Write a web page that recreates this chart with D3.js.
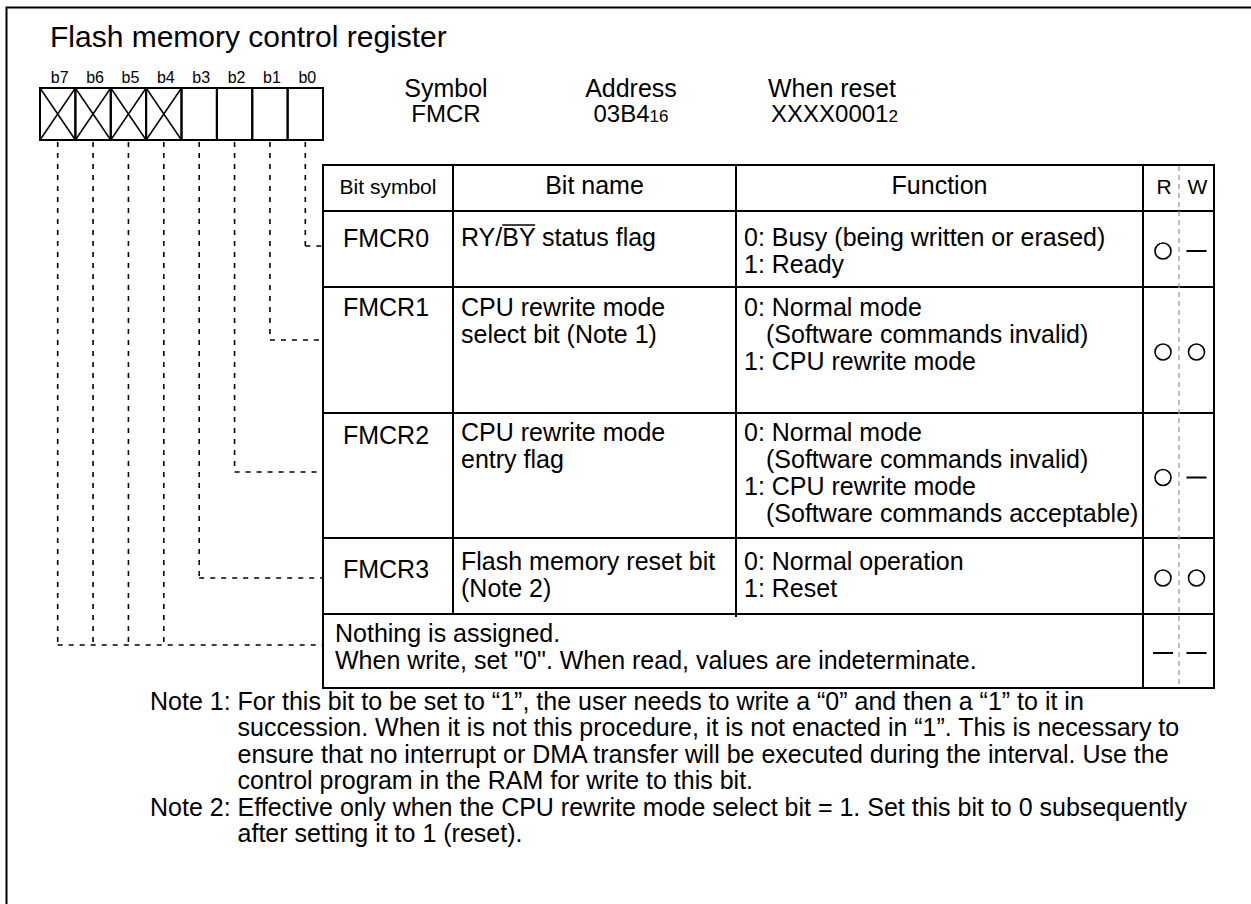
<!DOCTYPE html>
<html>
<head>
<meta charset="utf-8">
<script src="https://cdn.jsdelivr.net/npm/d3@7"></script>
<style>
  html, body { margin: 0; padding: 0; background: #fff; }
  svg { display: block; }
  text { font-family: "Liberation Sans", Arial, Helvetica, sans-serif; fill: #000; }
</style>
</head>
<body>
<svg id="chart" width="1251" height="904"></svg>
<script>
// ---------------- data ----------------
const title = "Flash memory control register";
const bitLabels = ["b7", "b6", "b5", "b4", "b3", "b2", "b1", "b0"];
const reservedBits = ["b7", "b6", "b5", "b4"];
const infoLabels = ["Symbol", "Address", "When reset"];
const infoValues = [["FMCR", ""], ["03B4", "16"], ["XXXX0001", "2"]];
const headers = ["Bit symbol", "Bit name", "Function", "R", "W"];
const bitSymbols = ["FMCR0", "FMCR1", "FMCR2", "FMCR3", ""];
const bitNames = [
  ["RY/BY status flag"],
  ["CPU rewrite mode", "select bit (Note 1)"],
  ["CPU rewrite mode", "entry flag"],
  ["Flash memory reset bit", "(Note 2)"],
  []
];
const functions = [
  ["0: Busy (being written or erased)", "1: Ready"],
  ["0: Normal mode", "(Software commands invalid)", "1: CPU rewrite mode"],
  ["0: Normal mode", "(Software commands invalid)", "1: CPU rewrite mode", "(Software commands acceptable)"],
  ["0: Normal operation", "1: Reset"],
  ["Nothing is assigned.", "When write, set \"0\". When read, values are indeterminate."]
];
const readAccess = ["O", "O", "O", "O", "-"];
const writeAccess = ["-", "O", "-", "O", "-"];
const rowBits = [["b0"], ["b1"], ["b2"], ["b3"], ["b4", "b5", "b6", "b7"]];
const noteLabels = ["Note 1:", "Note 2:"];
const noteLines = [
  ["For this bit to be set to \u201C1\u201D, the user needs to write a \u201C0\u201D and then a \u201C1\u201D to it in",
   "succession. When it is not this procedure, it is not enacted in \u201C1\u201D. This is necessary to",
   "ensure that no interrupt or DMA transfer will be executed during the interval. Use the",
   "control program in the RAM for write to this bit."],
  ["Effective only when the CPU rewrite mode select bit = 1. Set this bit to 0 subsequently",
   "after setting it to 1 (reset)."]
];

// ---------------- layout ----------------
const W = 1251, H = 904;
const svg = d3.select("#chart");
const colEdges = [323, 453, 736, 1143, 1179, 1214];
const rowEdges = [165, 211, 287, 413, 538, 614, 688];
const lineH = 27;
const firstLine = [35, 29, 28, 32, 28];
const symbolDy = [1, 0, 3, 8, 0];
const connectorY = [246, 340, 472, 578, 645];
const tableFont = 25;

// outer frame (top and left visible)
svg.append("rect").attr("x", 6.5).attr("y", 7.5).attr("width", W + 20).attr("height", H + 20)
  .attr("fill", "none").attr("stroke", "#000").attr("stroke-width", 2);

// title
svg.append("text").attr("x", 50).attr("y", 47).attr("font-size", 30).text(title);

// register bit boxes
const xBit = d3.scaleBand().domain(bitLabels).range([40, 323]);
const boxTop = 88, boxBottom = 140;
const gBits = svg.append("g");
gBits.selectAll("text.bl").data(bitLabels).join("text")
  .attr("class", "bl")
  .attr("x", d => xBit(d) + xBit.bandwidth() / 2 + 2)
  .attr("y", 83).attr("text-anchor", "middle").attr("font-size", 16)
  .text(d => d);
gBits.selectAll("rect").data(bitLabels).join("rect")
  .attr("x", d => xBit(d)).attr("y", boxTop)
  .attr("width", xBit.bandwidth()).attr("height", boxBottom - boxTop)
  .attr("fill", "none").attr("stroke", "#000").attr("stroke-width", 2);
reservedBits.forEach(b => {
  const x0 = xBit(b), x1 = x0 + xBit.bandwidth();
  gBits.append("line").attr("x1", x0).attr("y1", boxTop).attr("x2", x1).attr("y2", boxBottom)
    .attr("stroke", "#000").attr("stroke-width", 1.5);
  gBits.append("line").attr("x1", x1).attr("y1", boxTop).attr("x2", x0).attr("y2", boxBottom)
    .attr("stroke", "#000").attr("stroke-width", 1.5);
});

// register info
const infoX = [446, 631, 768];
const infoAnchor = ["middle", "middle", "start"];
infoLabels.forEach((lab, i) => {
  svg.append("text").attr("x", infoX[i]).attr("y", 97).attr("font-size", 25)
    .attr("text-anchor", infoAnchor[i]).text(lab);
  const t = svg.append("text").attr("x", infoX[i] + (i === 2 ? 3 : 0)).attr("y", 122).attr("font-size", 24)
    .attr("text-anchor", infoAnchor[i]);
  t.append("tspan").text(infoValues[i][0]);
  if (infoValues[i][1]) t.append("tspan").attr("font-size", 17).text(infoValues[i][1]);
});

// dashed connectors
const gConn = svg.append("g").attr("fill", "none").attr("stroke", "#000")
  .attr("stroke-width", 1.6).attr("stroke-dasharray", "5,6");
rowBits.forEach((bits, r) => {
  const y = connectorY[r];
  bits.forEach(b => {
    const x = xBit(b) + xBit.bandwidth() / 2;
    gConn.append("path").attr("d", `M${x},${boxBottom + 2}V${y}`);
  });
  const xs = bits.map(b => xBit(b) + xBit.bandwidth() / 2);
  gConn.append("path").attr("d", `M${d3.min(xs)},${y}H${colEdges[0]}`);
});

// table grid
const gT = svg.append("g").attr("stroke", "#000").attr("stroke-width", 2).attr("fill", "none");
gT.append("rect").attr("x", colEdges[0]).attr("y", rowEdges[0])
  .attr("width", colEdges[5] - colEdges[0]).attr("height", rowEdges[6] - rowEdges[0]);
rowEdges.slice(1, 6).forEach(y => {
  gT.append("line").attr("x1", colEdges[0]).attr("x2", colEdges[5]).attr("y1", y).attr("y2", y);
});
[1, 2].forEach(c => {
  gT.append("line").attr("x1", colEdges[c]).attr("x2", colEdges[c])
    .attr("y1", rowEdges[0]).attr("y2", rowEdges[5] + (c === 2 ? 3 : 0));
});
gT.append("line").attr("x1", colEdges[3]).attr("x2", colEdges[3])
  .attr("y1", rowEdges[0]).attr("y2", rowEdges[6]);
svg.append("line").attr("x1", colEdges[4]).attr("x2", colEdges[4])
  .attr("y1", rowEdges[0] + 1).attr("y2", rowEdges[6] - 1)
  .attr("stroke", "#999").attr("stroke-width", 1.3).attr("stroke-dasharray", "5,4");

// headers
const headerY = 194;
const headerX = [
  (colEdges[0] + colEdges[1]) / 2, (colEdges[1] + colEdges[2]) / 2, (colEdges[2] + colEdges[3]) / 2,
  (colEdges[3] + colEdges[4]) / 2 + 3, (colEdges[4] + colEdges[5]) / 2 + 1
];
headers.forEach((h, i) => {
  svg.append("text").attr("x", headerX[i]).attr("y", headerY).attr("text-anchor", "middle")
    .attr("font-size", i === 0 ? 21 : (i > 2 ? 21 : 25)).text(h);
});

// rows
bitSymbols.forEach((sym, r) => {
  const top = rowEdges[r + 1];
  const bottom = rowEdges[r + 2];
  const base = top + firstLine[r];
  if (sym) {
    svg.append("text").attr("x", (colEdges[0] + colEdges[1]) / 2 - 2).attr("y", base + symbolDy[r])
      .attr("text-anchor", "middle").attr("font-size", tableFont).text(sym);
  }
  bitNames[r].forEach((line, k) => {
    const t = svg.append("text").attr("x", colEdges[1] + 8).attr("y", base + k * lineH)
      .attr("font-size", tableFont).text(line);
    if (line.startsWith("RY/BY")) {
      const node = t.node();
      const x0 = node.getStartPositionOfChar(3).x;
      const x1 = node.getEndPositionOfChar(4).x;
      svg.append("line").attr("x1", x0).attr("x2", x1)
        .attr("y1", base - 21).attr("y2", base - 21)
        .attr("stroke", "#000").attr("stroke-width", 1.6);
    }
  });
  const fx = sym ? colEdges[2] + 8 : colEdges[0] + 12;
  functions[r].forEach((line, k) => {
    svg.append("text").attr("x", fx + (line.startsWith("(") ? 22 : 0)).attr("y", base + k * lineH)
      .attr("font-size", tableFont).text(line);
  });
  // R / W marks
  const cy = (top + bottom) / 2 + 2;
  [readAccess[r], writeAccess[r]].forEach((m, j) => {
    const cx = (colEdges[3 + j] + colEdges[4 + j]) / 2 + (j === 0 ? 2 : 0);
    if (m === "O") {
      svg.append("circle").attr("cx", cx).attr("cy", cy).attr("r", 8)
        .attr("fill", "none").attr("stroke", "#000").attr("stroke-width", 1.6);
    } else {
      svg.append("line").attr("x1", cx - 10).attr("x2", cx + 10).attr("y1", cy).attr("y2", cy)
        .attr("stroke", "#000").attr("stroke-width", 2);
    }
  });
});

// notes
const noteX = 150, noteTop = 710, noteLH = 26.4, noteFont = 25;
let li = 0;
noteLabels.forEach((lab, n) => {
  const probe = svg.append("text").attr("font-size", noteFont).attr("x", -1000).attr("y", -1000)
    .text(lab + "\u00A0");
  const indent = probe.node().getComputedTextLength();
  probe.remove();
  noteLines[n].forEach((line, k) => {
    const y = noteTop + li * noteLH;
    if (k === 0) {
      svg.append("text").attr("x", noteX).attr("y", y).attr("font-size", noteFont)
        .text(lab + "\u00A0" + line);
    } else {
      svg.append("text").attr("x", noteX + indent).attr("y", y).attr("font-size", noteFont).text(line);
    }
    li++;
  });
});
</script>
</body>
</html>
